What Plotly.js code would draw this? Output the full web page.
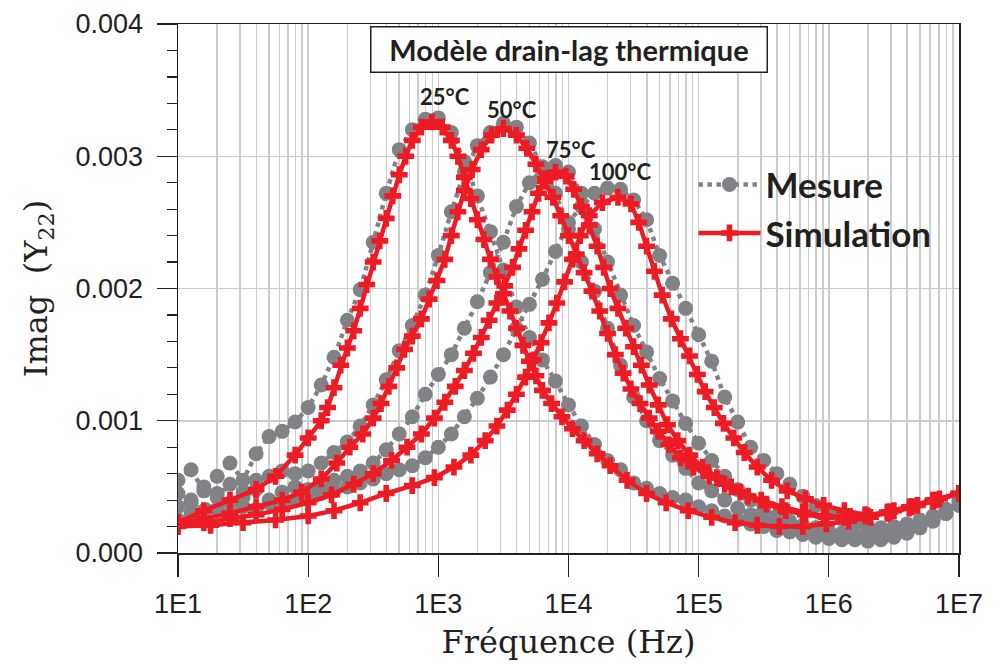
<!DOCTYPE html>
<html>
<head>
<meta charset="utf-8">
<script src="https://cdn.plot.ly/plotly-3.0.1.min.js"></script>
<style>html,body{margin:0;padding:0;background:#fff;}#chart{width:1000px;height:666px;}</style>
</head>
<body>
<div id="chart"></div>
<script>
// ---- Data ----
// Measurement frequencies (Hz), shared by the four measured series
const freqMes = [10,12.6,15.8,20,25.1,31.6,39.8,50.1,63.1,79.4,
  100,126,158,200,251,316,398,501,631,794,
  1000,1259,1585,1995,2512,3162,3981,5012,6310,7943,
  10000,12590,15850,19950,25120,31620,39810,50120,63100,79430,
  100000,125900,158500,199500,251200,316200,398100,501200,631000,794300,
  1000000,1259000,1585000,1995000,2512000,3162000,3981000,5012000,6310000,7943000,
  10000000];

const mes25 = [0.00055,0.00063,0.00047,0.00058,0.00068,0.00055,0.00075,0.00088,0.00092,0.00099,
  0.0011,0.00127,0.00148,0.00176,0.00199,0.00235,0.00272,0.00305,0.0032,0.00328,
  0.00329,0.00318,0.00296,0.0027,0.00243,0.00214,0.00186,0.00163,0.00146,0.0013,
  0.00112,0.00096,0.00082,0.0007,0.00063,0.00053,0.00049,0.00045,0.00042,0.0004,
  0.00035,0.00032,0.00028,0.00025,0.00022,0.0002,0.00017,0.00016,0.00014,0.00012,
  0.00011,0.0001,0.00012,0.00009,0.00013,0.00012,0.00016,0.00019,0.00024,0.0003,0.00036];

const mes50 = [0.00045,0.00038,0.0005,0.00042,0.00052,0.00046,0.00055,0.00058,0.00062,0.0006,
  0.00062,0.00068,0.00076,0.00084,0.00096,0.00112,0.00131,0.00153,0.00172,0.00195,
  0.00225,0.00258,0.00288,0.00308,0.00318,0.00325,0.00322,0.0031,0.00292,0.00272,
  0.00245,0.0022,0.00198,0.0017,0.00142,0.00118,0.001,0.00085,0.00074,0.00064,
  0.00053,0.00047,0.0004,0.00034,0.00029,0.00025,0.00022,0.00019,0.00016,0.00014,
  0.00013,0.00011,0.0001,0.00012,0.0001,0.00014,0.00015,0.0002,0.00025,0.0003,0.00038];

const mes75 = [0.00035,0.0004,0.00032,0.00045,0.00038,0.00042,0.00048,0.0004,0.00046,0.0005,
  0.00048,0.00052,0.00055,0.00058,0.00062,0.00068,0.00078,0.0009,0.00103,0.0012,
  0.00135,0.0015,0.0017,0.0019,0.00212,0.00235,0.00262,0.0028,0.0029,0.00293,
  0.00288,0.00272,0.00245,0.0022,0.00195,0.00172,0.00152,0.00132,0.00115,0.00098,
  0.00083,0.0007,0.00058,0.00048,0.0004,0.00033,0.00028,0.00024,0.00021,0.00019,
  0.00016,0.00015,0.00014,0.00016,0.00015,0.00018,0.0002,0.00022,0.00026,0.0003,0.0004];

const mes100 = [0.00025,0.0003,0.00028,0.00033,0.0003,0.00035,0.00033,0.00038,0.00036,0.0004,
  0.00042,0.00045,0.00047,0.0005,0.00053,0.00056,0.0006,0.00063,0.00066,0.00072,
  0.0008,0.0009,0.00103,0.00117,0.00133,0.0015,0.0017,0.00188,0.00207,0.00228,
  0.0025,0.00262,0.00272,0.00276,0.00275,0.00267,0.00252,0.00225,0.00204,0.00185,
  0.00165,0.00145,0.00118,0.00099,0.0008,0.0007,0.0006,0.00052,0.00043,0.00036,
  0.0003,0.00026,0.00022,0.0002,0.00019,0.0002,0.00022,0.00025,0.00028,0.00033,0.00042];

// Simulation curves (frequency in Hz, value)
const freqSim25 = [10,15.8,25.1,39.8,56.2,79.4,100,126,141,158,178,200,224,251,282,316,
  355,398,447,501,562,631,741,891,1072,1259,1413,1585,1778,1995,2239,2512,2818,3162,
  3548,3981,4467,5012,5623,6310,7413,8913,10720,13180,16600,20890,28180,39810,56230,83180,
  125900,190500,281800,416900,631000,955000,1413000,2089000,3162000,4786000,7079000,10000000];
const sim25 = [0.00023,0.00032,0.0004,0.00048,0.00058,0.00074,0.00087,0.001,0.0011,0.00125,0.00142,0.00155,0.00168,0.00185,0.00203,0.0022,
  0.00236,0.00253,0.0027,0.00286,0.003,0.00312,0.00322,0.00326,0.00322,0.00312,0.003,0.00284,0.00268,0.00252,0.00237,0.00222,0.00209,0.00196,
  0.00183,0.0017,0.00157,0.00145,0.00134,0.00123,0.00113,0.00103,0.00094,0.00085,0.00075,0.00066,0.00055,0.00045,0.00038,0.00032,
  0.00027,0.00023,0.00021,0.0002,0.0002,0.00022,0.00024,0.00027,0.00032,0.00036,0.00041,0.00045];

const freqSim50 = [10,15.8,25.1,39.8,63.1,89.1,126,166,209,263,316,363,417,479,550,
  631,741,851,977,1122,1259,1413,1585,1820,2138,2570,3162,3981,4786,5623,
  6607,7586,8710,10000,11480,13180,15140,17380,19950,22910,26300,30200,35480,41690,48980,
  58880,72440,91200,120200,158500,208900,302000,436500,631000,912000,
  1318000,1905000,2818000,4169000,6310000,10000000];
const sim50 = [0.00022,0.00026,0.0003,0.00035,0.0004,0.00046,0.00056,0.00068,0.0008,0.0009,
  0.00102,0.00113,0.00126,0.0014,0.00154,0.00164,0.00177,0.00192,0.00206,0.00222,
  0.0024,0.00258,0.00274,0.0029,0.00305,0.00316,0.00321,0.00316,0.00306,0.00294,
  0.00281,0.00269,0.00255,0.0024,0.00226,0.00212,0.00198,0.00183,0.00166,0.0015,
  0.00136,0.00124,0.00113,0.00102,0.00092,0.00082,0.00072,0.00065,0.00058,0.00052,
  0.00046,0.0004,0.00035,0.00031,0.00028,0.00027,0.00028,0.00031,0.00035,0.0004,0.00045];

const freqSim75 = [10,15.8,25.1,39.8,63.1,100,151,224,316,437,
  575,741,933,1122,1349,1585,1862,2138,2455,2818,
  3236,3715,4169,4677,5248,5888,6607,7943,9550,10960,
  12590,14450,16600,18620,20890,23990,27540,31620,36310,41690,
  48980,57540,69180,85110,107200,138000,177800,239900,331100,467700,
  660700,955000,1380000,1995000,2951000,4365000,6607000,10000000];
const sim75 = [0.00021,0.00023,0.00026,0.00029,0.00033,0.00038,0.00044,0.00052,0.0006,0.0007,
  0.0008,0.0009,0.00102,0.00114,0.00126,0.00138,0.00151,0.00163,0.00176,0.00189,
  0.00202,0.00216,0.0023,0.00244,0.00258,0.00272,0.00283,0.00288,0.00285,0.00275,
  0.00262,0.00248,0.00232,0.00216,0.002,0.00185,0.0017,0.00156,0.00142,0.00127,
  0.00112,0.00097,0.00085,0.00074,0.00065,0.00057,0.0005,0.00043,0.00037,0.00032,
  0.00029,0.00027,0.00027,0.00028,0.00031,0.00035,0.0004,0.00045];

const freqSim100 = [10,17.8,31.6,56.2,100,158,251,398,631,933,
  1318,1778,2291,2818,3388,3981,4677,5370,6166,7079,
  8128,9333,10720,12300,14450,18200,23990,30200,34670,39810,
  45710,52480,61660,72440,85110,97720,112200,131800,154900,186200,
  223900,281800,363100,478600,660700,912000,1318000,1905000,2818000,4169000,
  6310000,10000000];
const sim100 = [0.0002,0.00021,0.00023,0.00025,0.00028,0.00032,0.00038,0.00045,0.00051,0.00057,
  0.00065,0.00074,0.00085,0.00096,0.00108,0.0012,0.00133,0.00146,0.00159,0.00174,
  0.00189,0.00205,0.00222,0.0024,0.00255,0.00265,0.00269,0.00264,0.0025,0.00232,
  0.00213,0.00195,0.00177,0.00162,0.00149,0.00135,0.00122,0.0011,0.00098,0.00087,
  0.00076,0.00065,0.00055,0.00047,0.00041,0.00036,0.00032,0.00029,0.0003,0.00034,
  0.00039,0.00045];

const tickVals = [10,100,1000,10000,100000,1000000,10000000];
const tickText = ['1E1','1E2','1E3','1E4','1E5','1E6','1E7'];
const peakLabels = ['25°C','50°C','75°C','100°C'];
const seriesNames = ['Mesure','Simulation'];

// ---- Styles ----
const GRAY = '#808285';
const RED = '#ED1C24';
const INK = '#231f20';

function mesTrace(y, show) {
  return {x: freqMes, y: y, type: 'scatter', mode: 'lines+markers',
    name: seriesNames[0], legendgroup: 'mes', showlegend: show,
    line: {color: GRAY, width: 4.5, dash: 'dot'},
    marker: {color: GRAY, size: 15, symbol: 'circle'}};
}
function simTrace(x, y, show) {
  return {x: x, y: y, type: 'scatter', mode: 'lines+markers',
    name: seriesNames[1], legendgroup: 'sim', showlegend: show,
    line: {color: RED, width: 4.5},
    marker: {color: RED, size: 14, symbol: 'cross', line: {width: 0}}};
}

const data = [
  mesTrace(mes25, true), mesTrace(mes50, false), mesTrace(mes75, false), mesTrace(mes100, false),
  simTrace(freqSim25, sim25, true), simTrace(freqSim50, sim50, false),
  simTrace(freqSim75, sim75, false), simTrace(freqSim100, sim100, false)
];

// label centres (paper fractions)
const labelPos = [[0.342, 0.863], [0.4277, 0.838], [0.503, 0.762], [0.566, 0.722]];
const annotations = peakLabels.map((t, i) => ({
  text: t, xref: 'paper', yref: 'paper', x: labelPos[i][0], y: labelPos[i][1],
  xanchor: 'center', yanchor: 'middle',
  showarrow: false, font: {family: 'Lato', size: 22, color: INK, weight: 'bold'}
}));
annotations.push({
  text: 'Modèle drain-lag thermique', xref: 'paper', yref: 'paper', x: 0.5, y: 0.951,
  xanchor: 'center', yanchor: 'middle',
  showarrow: false, font: {family: 'Lato', size: 29, color: INK, weight: 'bold'},
  bordercolor: INK, borderwidth: 1.5, borderpad: 4, bgcolor: '#ffffff', width: 387, height: 36
});

const layout = {
  width: 1000, height: 666,
  margin: {l: 178, r: 41, t: 24, b: 113, pad: 0},
  paper_bgcolor: '#ffffff', plot_bgcolor: '#ffffff',
  showlegend: true,
  legend: {x: 0.66, y: 0.752, xanchor: 'left', yanchor: 'top', bgcolor: 'rgba(0,0,0,0)',
    font: {family: 'Lato', size: 35, color: INK, weight: 'bold'}, itemwidth: 62, tracegroupgap: 0},
  xaxis: {
    type: 'log', range: [1, 7], tickmode: 'array', tickvals: tickVals, ticktext: tickText,
    ticks: 'outside', ticklen: 22, tickwidth: 1.2, tickcolor: INK,
    showline: true, linecolor: INK, linewidth: 1.5, mirror: true,
    showgrid: true, gridcolor: '#cccccc', gridwidth: 1.5, zeroline: false,
    minor: {dtick: 'D1', showgrid: true, gridcolor: '#cccccc', gridwidth: 1.5, ticks: ''},
    tickfont: {family: 'Liberation Sans', size: 27, color: INK}, ticklabelstandoff: 4,
    title: {text: 'Fréquence (Hz)', font: {family: 'DejaVu Serif', size: 32, color: INK}, standoff: 12},
    automargin: false
  },
  yaxis: {
    range: [0, 0.004], dtick: 0.001, tickformat: '.3f',
    ticks: 'outside', ticklen: 20, tickwidth: 1.2, tickcolor: INK,
    showline: true, linecolor: INK, linewidth: 1.5, mirror: true,
    showgrid: true, gridcolor: '#cccccc', gridwidth: 1.5, zeroline: false,
    minor: {dtick: 0.0002, ticks: 'outside', ticklen: 10, tickcolor: INK, tickwidth: 1.2, showgrid: false},
    tickfont: {family: 'Liberation Sans', size: 27, color: INK}, ticklabelstandoff: 8,
    title: {text: 'Imag&#160;&#160;(Y<sub>22</sub>)', font: {family: 'DejaVu Serif', size: 32, color: INK}, standoff: 18},
    automargin: false
  },
  annotations: annotations
};

Plotly.newPlot('chart', data, layout, {displayModeBar: false, staticPlot: true});
</script>
</body>
</html>
